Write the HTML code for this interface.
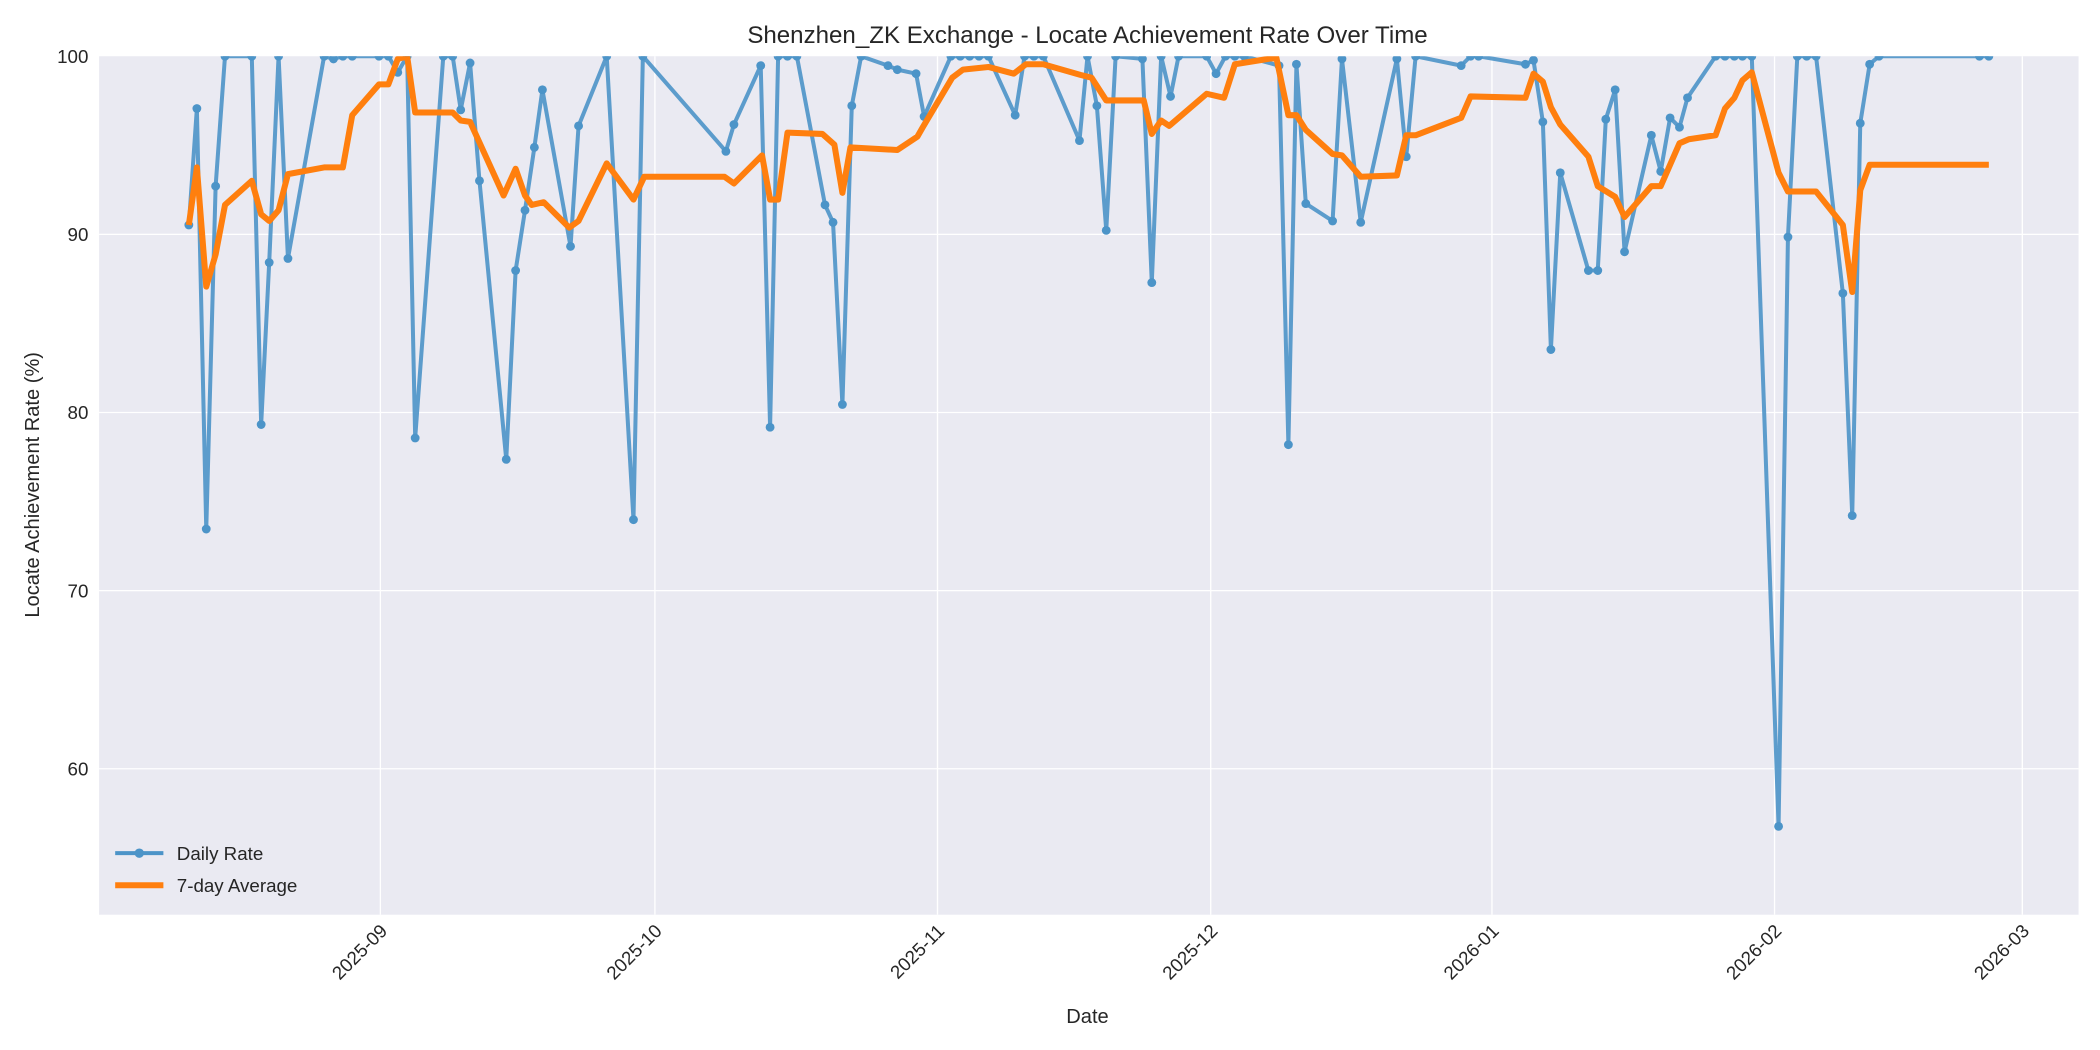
<!DOCTYPE html>
<html><head><meta charset="utf-8"><style>
html,body{margin:0;padding:0;background:#fff;}
svg{display:block;font-family:"Liberation Sans","DejaVu Sans",sans-serif;}
</style></head><body>
<svg width="2100" height="1050" viewBox="0 0 1568 784" xmlns="http://www.w3.org/2000/svg">
<rect width="1568" height="784" fill="#fff"/>
<rect x="74" y="42" width="1478" height="641" fill="#eaeaf2"/>
<g stroke="#fff" stroke-width="1">
<line x1="74" x2="1552" y1="574" y2="574"/><line x1="74" x2="1552" y1="441" y2="441"/>
<line x1="74" x2="1552" y1="308" y2="308"/><line x1="74" x2="1552" y1="175" y2="175"/>
<line x1="284" x2="284" y1="42" y2="683"/><line x1="489" x2="489" y1="42" y2="683"/>
<line x1="700" x2="700" y1="42" y2="683"/><line x1="904" x2="904" y1="42" y2="683"/>
<line x1="1114" x2="1114" y1="42" y2="683"/><line x1="1325" x2="1325" y1="42" y2="683"/>
<line x1="1510" x2="1510" y1="42" y2="683"/>
</g>
<g font-size="14" fill="#262626" text-anchor="end">
<text x="66" y="579">60</text><text x="66" y="446">70</text><text x="66" y="313">80</text>
<text x="66" y="180">90</text><text x="66" y="47">100</text>
</g>
<g font-size="14" fill="#262626" text-anchor="end">
<text transform="translate(290,696) rotate(-45)">2025-09</text>
<text transform="translate(495,696) rotate(-45)">2025-10</text>
<text transform="translate(706,696) rotate(-45)">2025-11</text>
<text transform="translate(910,696) rotate(-45)">2025-12</text>
<text transform="translate(1120,696) rotate(-45)">2026-01</text>
<text transform="translate(1331,696) rotate(-45)">2026-02</text>
<text transform="translate(1516,696) rotate(-45)">2026-03</text>
</g>
<text x="812" y="764" font-size="15" fill="#262626" text-anchor="middle">Date</text>
<text transform="translate(29,362) rotate(-90)" font-size="15" fill="#262626" text-anchor="middle">Locate Achievement Rate (%)</text>
<text x="812" y="32" font-size="18" fill="#262626" text-anchor="middle">Shenzhen_ZK Exchange - Locate Achievement Rate Over Time</text>
<svg x="74" y="42" width="1478" height="641" viewBox="74 42 1478 641" overflow="hidden">
<polyline fill="none" stroke="#4c94c8" stroke-opacity="0.9" stroke-width="3" stroke-linejoin="round" points="141,168 147,81 154,395 161,139 168,42 188,42 195,317 201,196 208,42 215,193 242,42 249,44 256,42 263,42 283,42 290,42 297,54 304,42 310,327 331,42 338,42 344,82 351,47 358,135 378,343 385,202 392,157 399,110 405,67 426,184 432,94 453,42 473,388 480,42 542,113 548,93 568,49 575,319 581,42 588,42 595,42 616,153 622,166 629,302 636,79 643,42 663,49 670,52 684,55 690,87 710,42 717,42 724,42 731,42 738,42 758,86 765,42 772,42 779,42 806,105 812,42 819,79 826,172 833,42 853,44 860,211 867,42 874,72 880,42 901,42 908,55 915,42 922,42 929,42 955,49 962,332 968,48 975,152 995,165 1002,44 1016,166 1043,44 1050,117 1057,42 1091,49 1098,42 1104,42 1139,48 1145,45 1152,91 1158,261 1165,129 1186,202 1193,202 1199,89 1206,67 1213,188 1233,101 1240,128 1247,88 1254,95 1260,73 1281,42 1288,42 1295,42 1301,42 1308,42 1328,617 1335,177 1342,42 1349,42 1356,42 1376,219 1383,385 1389,92 1396,48 1403,42 1478,42 1485,42"/>
<g fill="#4c94c8" id="dots"></g>
<polyline fill="none" stroke="#ff7f0e" stroke-width="4.5" stroke-linejoin="round" points="141,168 147,125 154,214 161,190 168,153 188,135 195,160 201,165 208,157 215,130 242,125 256,125 263,86 283,63 290,63 297,44 304,42 310,84 331,84 338,84 344,90 351,91 376,146 385,126 392,146 397,153 406,151 425,170 432,165 453,122 473,149 481,132 541,132 548,137 569,116 575,149 581,149 588,99 614,100 623,108 629,144 635,110 670,112 685,102 689,95 711,58 719,52 738,50 757,55 766,48 779,48 807,56 815,58 826,75 854,75 860,100 867,90 873,94 901,70 914,73 922,48 953,43 962,86 968,86 975,97 995,115 1002,116 1016,132 1043,131 1050,101 1057,101 1091,88 1098,72 1139,73 1145,55 1152,61 1158,80 1165,93 1186,117 1193,139 1206,147 1213,162 1233,139 1240,139 1254,107 1261,104 1281,101 1288,81 1295,73 1301,60 1308,54 1328,129 1335,143 1356,143 1376,168 1383,218 1389,142 1396,123 1403,123 1485,123"/>
</svg>
<g stroke="#4c94c8" stroke-width="3"><line x1="86" x2="122" y1="637" y2="637"/></g>
<circle cx="104" cy="637" r="3.5" fill="#4c94c8"/>
<line x1="86" x2="122" y1="661" y2="661" stroke="#ff7f0e" stroke-width="4.5"/>
<text x="132" y="642" font-size="14" fill="#262626">Daily Rate</text>
<text x="132" y="666" font-size="14" fill="#262626">7-day Average</text>
<script>
(function(){var pts="141,168 147,81 154,395 161,139 168,42 188,42 195,317 201,196 208,42 215,193 242,42 249,44 256,42 263,42 283,42 290,42 297,54 304,42 310,327 331,42 338,42 344,82 351,47 358,135 378,343 385,202 392,157 399,110 405,67 426,184 432,94 453,42 473,388 480,42 542,113 548,93 568,49 575,319 581,42 588,42 595,42 616,153 622,166 629,302 636,79 643,42 663,49 670,52 684,55 690,87 710,42 717,42 724,42 731,42 738,42 758,86 765,42 772,42 779,42 806,105 812,42 819,79 826,172 833,42 853,44 860,211 867,42 874,72 880,42 901,42 908,55 915,42 922,42 929,42 955,49 962,332 968,48 975,152 995,165 1002,44 1016,166 1043,44 1050,117 1057,42 1091,49 1098,42 1104,42 1139,48 1145,45 1152,91 1158,261 1165,129 1186,202 1193,202 1199,89 1206,67 1213,188 1233,101 1240,128 1247,88 1254,95 1260,73 1281,42 1288,42 1295,42 1301,42 1308,42 1328,617 1335,177 1342,42 1349,42 1356,42 1376,219 1383,385 1389,92 1396,48 1403,42 1478,42 1485,42".split(" ");
var g=document.getElementById("dots"),ns="http://www.w3.org/2000/svg";
pts.forEach(function(p){var a=p.split(","),c=document.createElementNS(ns,"circle");c.setAttribute("cx",a[0]);c.setAttribute("cy",a[1]);c.setAttribute("r","3.3");g.appendChild(c);});})();
</script>
</svg>
</body></html>
